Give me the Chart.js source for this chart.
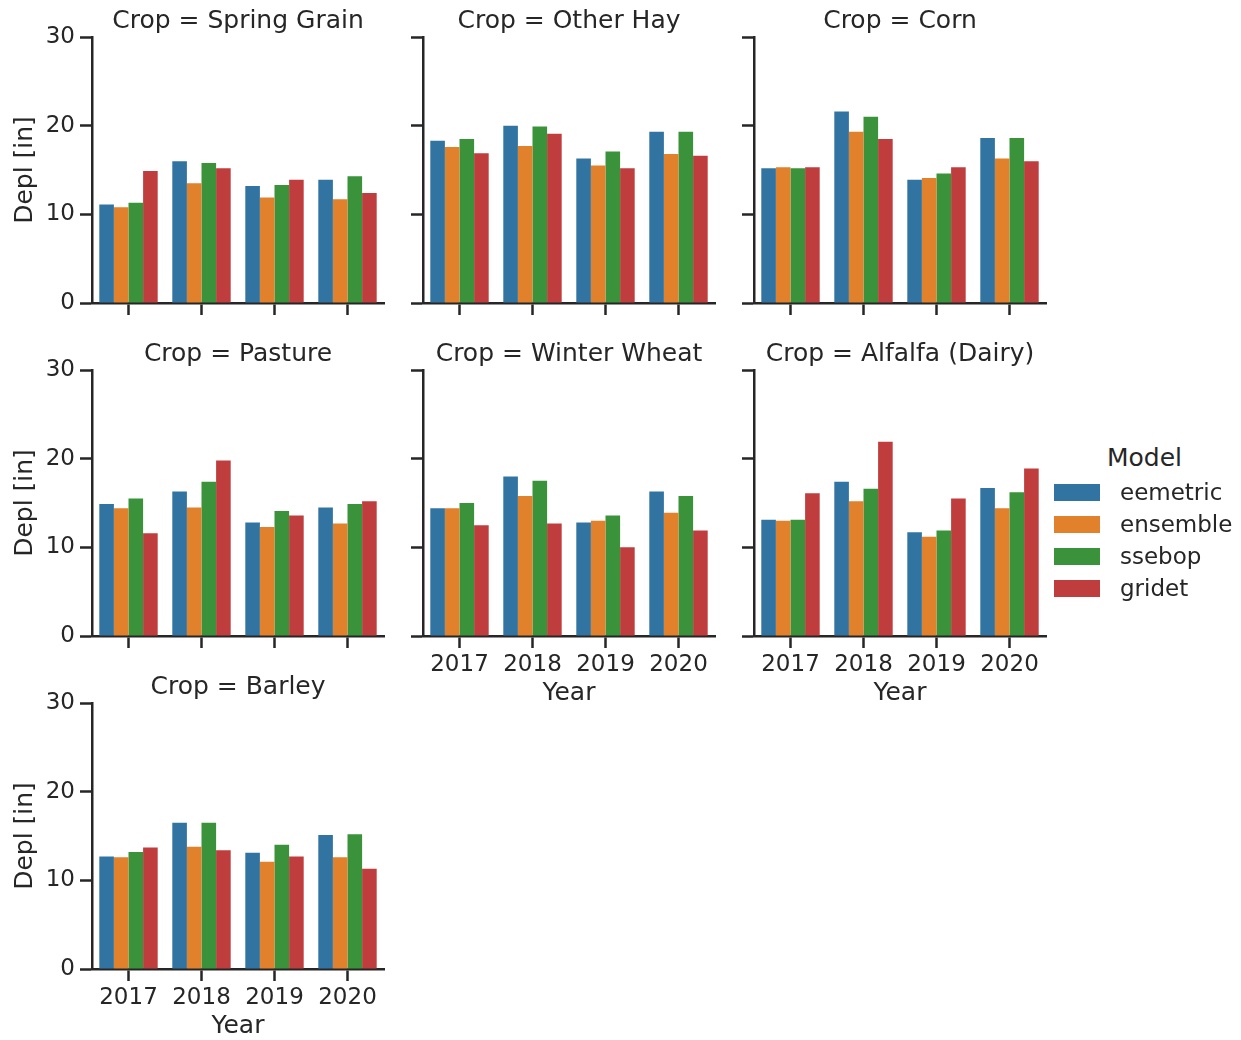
<!DOCTYPE html>
<html>
<head>
<meta charset="utf-8">
<script src="https://cdn.jsdelivr.net/npm/chart.js@4.4.0/dist/chart.umd.min.js"></script>
<style>
  body { margin: 0; background: #fff; font-family: "DejaVu Sans", sans-serif; }
  #fig { position: relative; width: 1241px; height: 1040px; overflow: hidden; }
  #fig canvas { position: absolute; }
  .leg { position: absolute; color: #262626; white-space: nowrap; }
  .patch { position: absolute; width: 46px; height: 17px; }
</style>
</head>
<body>
<div id="fig"></div>
<script>
// data
const years = ['2017', '2018', '2019', '2020'];
const models = ['eemetric', 'ensemble', 'ssebop', 'gridet'];
const crops = ['Spring Grain', 'Other Hay', 'Corn', 'Pasture', 'Winter Wheat', 'Alfalfa (Dairy)', 'Barley'];

// rows: eemetric, ensemble, ssebop, gridet ; columns: years
const springGrain = [[11.1, 16.0, 13.2, 13.9], [10.8, 13.5, 11.9, 11.7], [11.3, 15.8, 13.3, 14.3], [14.9, 15.2, 13.9, 12.4]];
const otherHay = [[18.3, 20.0, 16.3, 19.3], [17.6, 17.7, 15.5, 16.8], [18.5, 19.9, 17.1, 19.3], [16.9, 19.1, 15.2, 16.6]];
const corn = [[15.2, 21.6, 13.9, 18.6], [15.3, 19.3, 14.1, 16.3], [15.2, 21.0, 14.6, 18.6], [15.3, 18.5, 15.3, 16.0]];
const pasture = [[14.9, 16.3, 12.8, 14.5], [14.4, 14.5, 12.3, 12.7], [15.5, 17.4, 14.1, 14.9], [11.6, 19.8, 13.6, 15.2]];
const winterWheat = [[14.4, 18.0, 12.8, 16.3], [14.4, 15.8, 13.0, 13.9], [15.0, 17.5, 13.6, 15.8], [12.5, 12.7, 10.0, 11.9]];
const alfalfaDairy = [[13.1, 17.4, 11.7, 16.7], [13.0, 15.2, 11.2, 14.4], [13.1, 16.6, 11.9, 16.2], [16.1, 21.9, 15.5, 18.9]];
const barley = [[12.7, 16.5, 13.1, 15.1], [12.6, 13.8, 12.1, 12.6], [13.2, 16.5, 14.0, 15.2], [13.7, 13.4, 12.7, 11.3]];

const cropValues = [springGrain, otherHay, corn, pasture, winterWheat, alfalfaDairy, barley];

// styles
const modelColors = ['#3274a1', '#e1812c', '#3a923a', '#c03d3e'];
const ink = '#262626';
const fam = '"DejaVu Sans", sans-serif';

// layout
const colLeft = [92, 423, 754];
const rowTop = [37, 370, 703];
const plotW = 292, plotH = 266;
const padLeft = 92, titleH = 37, xAreaH = 80, padRight = 14;

const fig = document.getElementById('fig');

crops.forEach((crop, i) => {
  const row = Math.floor(i / 3), col = i % 3;
  const showX = i + 3 >= crops.length;
  const showY = col === 0;

  const canvas = document.createElement('canvas');
  canvas.width = padLeft + plotW + padRight;
  canvas.height = titleH + plotH + xAreaH;
  canvas.style.left = (colLeft[col] - padLeft) + 'px';
  canvas.style.top = (rowTop[row] - titleH) + 'px';
  fig.appendChild(canvas);

  new Chart(canvas, {
    type: 'bar',
    data: {
      labels: years,
      datasets: models.map((m, k) => ({
        label: m,
        data: cropValues[i][k],
        backgroundColor: modelColors[k],
        borderWidth: 0,
        categoryPercentage: 0.8,
        barPercentage: 1.0
      }))
    },
    options: {
      responsive: false,
      animation: false,
      layout: { padding: { left: 0, right: padRight, top: 0, bottom: 0 } },
      plugins: {
        legend: { display: false },
        tooltip: { enabled: false },
        title: {
          display: true,
          text: 'Crop = ' + crop,
          fullSize: false,
          color: ink,
          font: { family: fam, size: 25, weight: 'normal' },
          padding: { top: 6, bottom: 1 }
        }
      },
      scales: {
        x: {
          grid: { display: true, drawOnChartArea: false, offset: false, tickLength: 12, tickWidth: 2.5, tickColor: ink },
          border: { display: true, color: ink, width: 2.5 },
          ticks: { color: showX ? ink : 'rgba(0,0,0,0)', font: { family: fam, size: 23 }, padding: 3, maxRotation: 0 },
          title: { display: showX, text: 'Year', color: ink, font: { family: fam, size: 25 }, padding: { top: 0, bottom: 8 } },
          afterFit: s => { s.height = xAreaH; }
        },
        y: {
          min: 0,
          max: 30,
          grid: { display: true, drawOnChartArea: false, tickLength: 12, tickWidth: 2.5, tickColor: ink },
          border: { display: true, color: ink, width: 2.5 },
          ticks: { stepSize: 10, color: showY ? ink : 'rgba(0,0,0,0)', font: { family: fam, size: 23 }, padding: 5 },
          title: { display: showY, text: 'Depl [in]', color: ink, font: { family: fam, size: 25 }, padding: { top: 10, bottom: 0 } },
          afterFit: s => { s.width = padLeft; }
        }
      }
    }
  });
});

// legend
const legTitle = document.createElement('div');
legTitle.className = 'leg';
legTitle.textContent = 'Model';
legTitle.style.cssText += 'left:1107px;top:443px;font-size:25px;line-height:30px;';
fig.appendChild(legTitle);

models.forEach((m, k) => {
  const cy = 492 + k * 32;
  const p = document.createElement('div');
  p.className = 'patch';
  p.style.left = '1054px';
  p.style.top = (cy - 8.5) + 'px';
  p.style.background = modelColors[k];
  fig.appendChild(p);

  const t = document.createElement('div');
  t.className = 'leg';
  t.textContent = m;
  t.style.cssText += 'left:1120px;top:' + (cy - 14) + 'px;font-size:23px;line-height:28px;';
  fig.appendChild(t);
});
</script>
</body>
</html>
